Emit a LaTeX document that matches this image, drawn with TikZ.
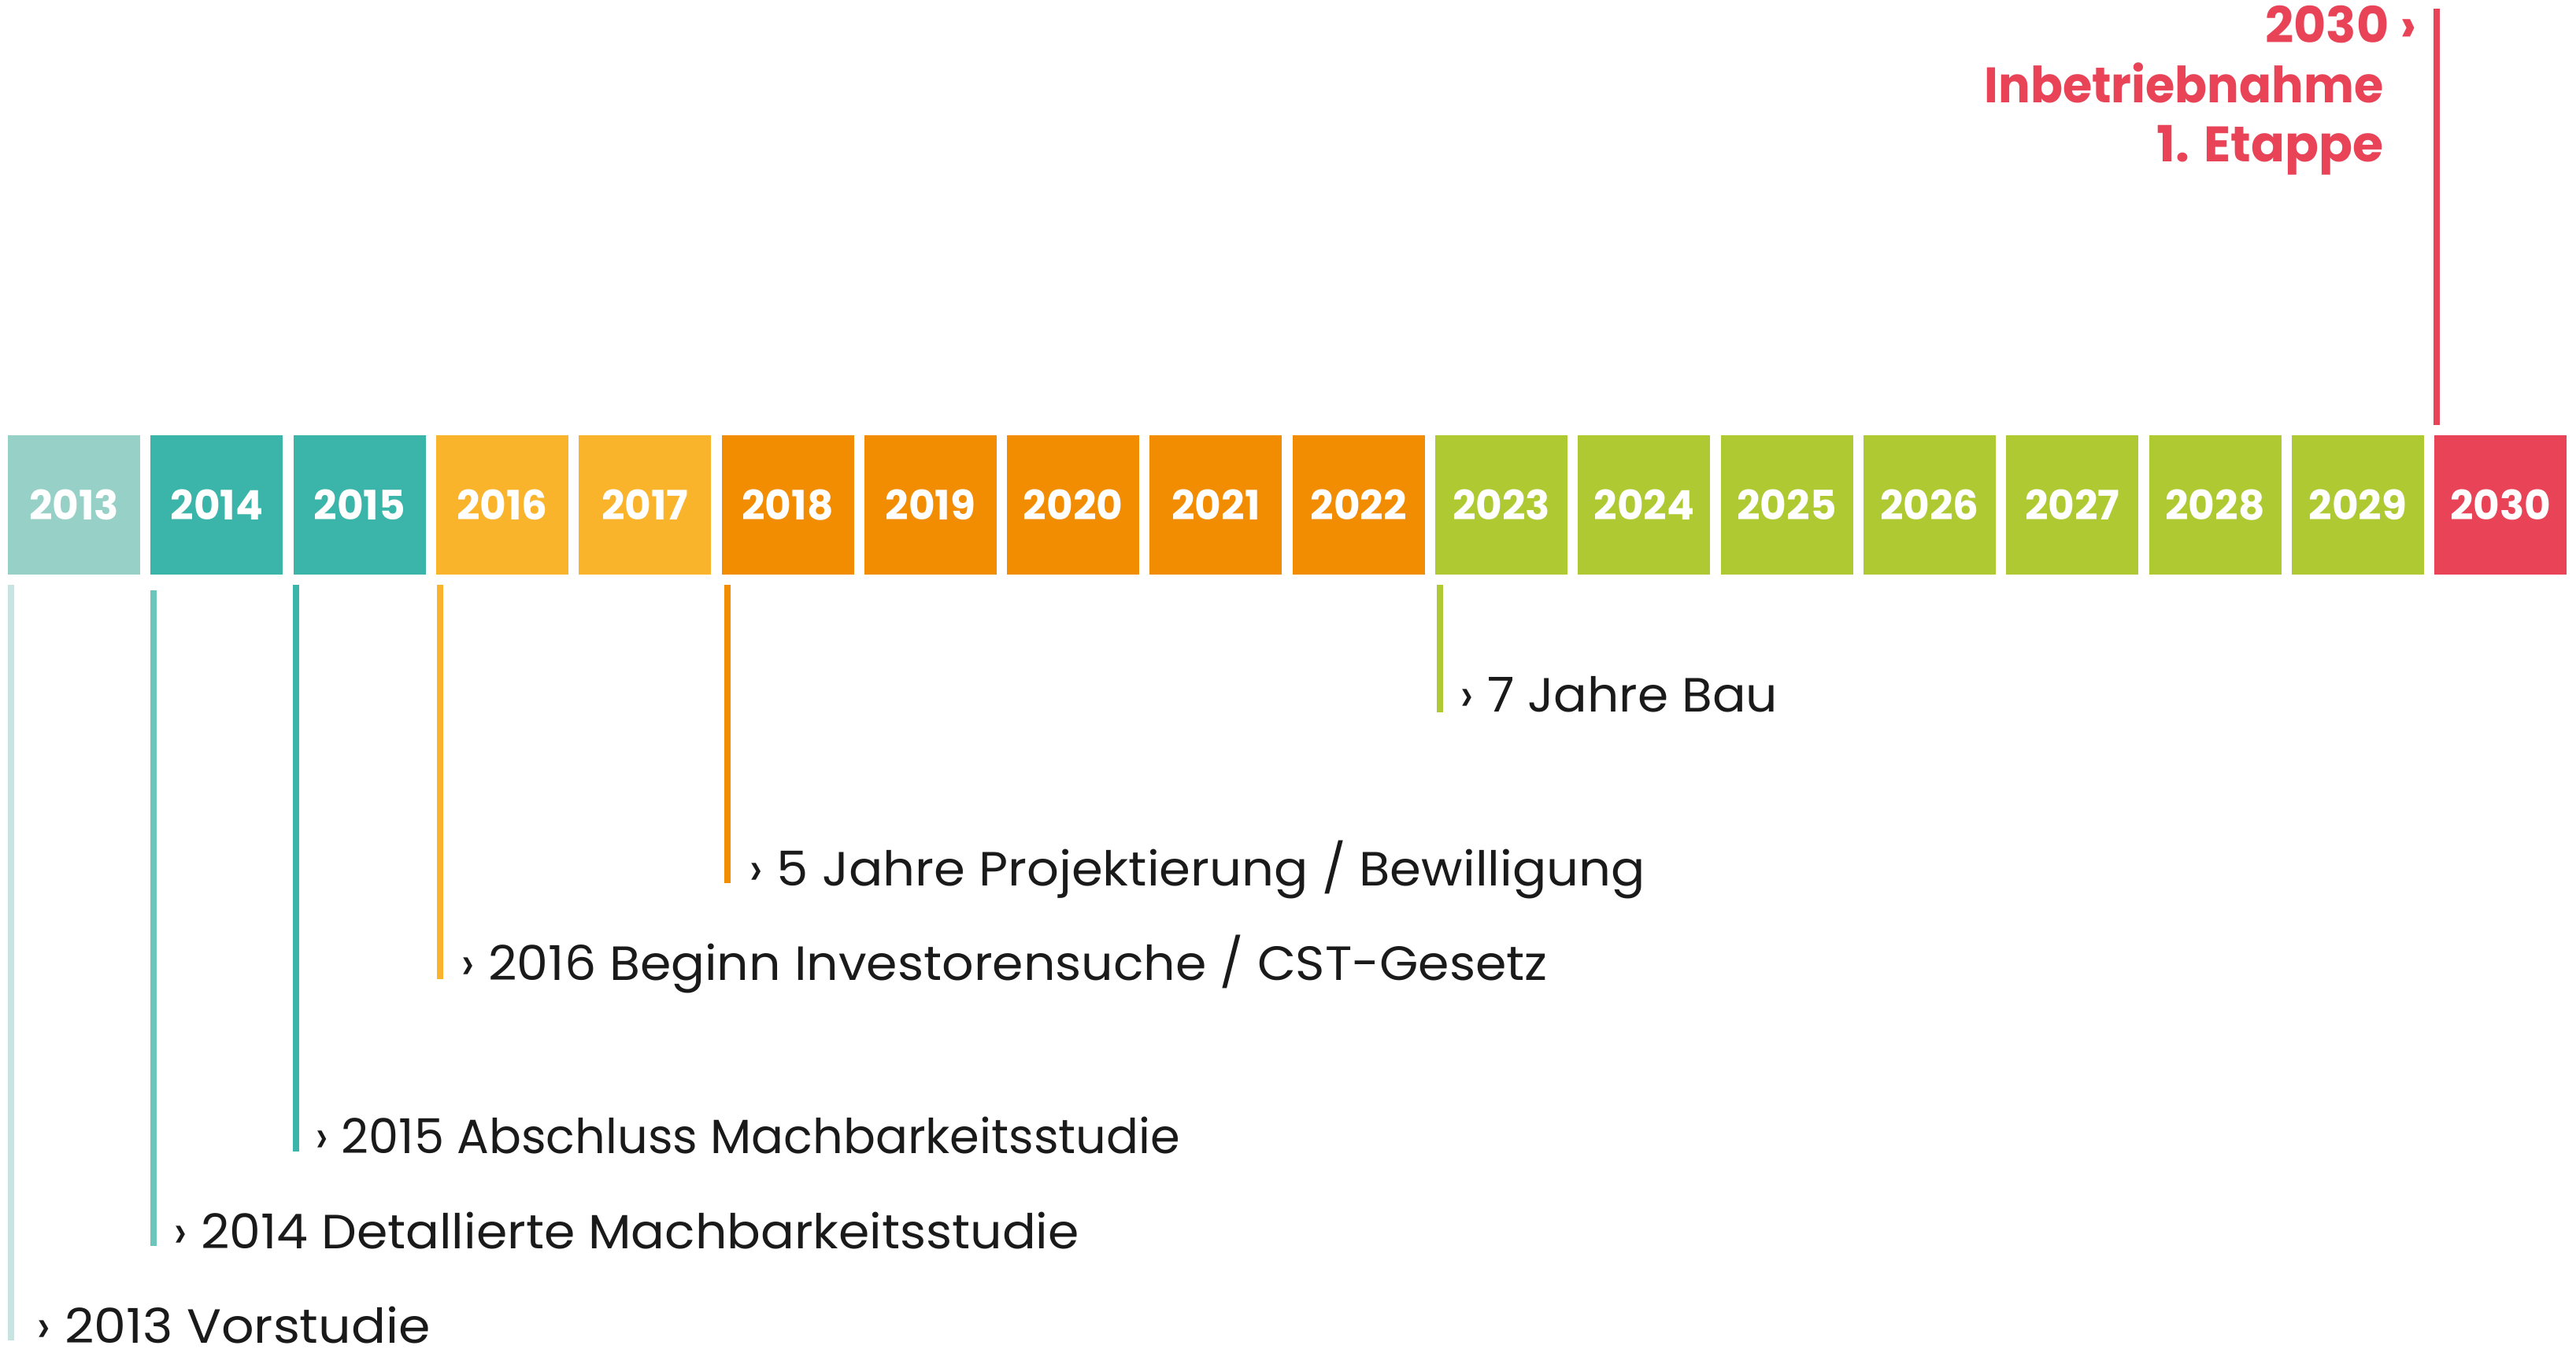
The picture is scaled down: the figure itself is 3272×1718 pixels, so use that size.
\documentclass[tikz,border=0pt]{standalone}
\usepackage{fontspec}
\setmainfont{Poppins}
\usetikzlibrary{calc}
\definecolor{cA}{HTML}{96D0C6}
\definecolor{cAl}{HTML}{C6E5E0}
\definecolor{cB}{HTML}{3BB5A9}
\definecolor{cBl}{HTML}{6CC5BA}
\definecolor{cC}{HTML}{F9B42B}
\definecolor{cD}{HTML}{F28C00}
\definecolor{cE}{HTML}{AFC932}
\definecolor{cF}{HTML}{E84357}
\definecolor{txt}{HTML}{1A1A1A}
% stretch a text horizontally to a target width (pt)
\newcommand\fitw[2]{\sbox0{#2}\pgfmathsetmacro\myscx{#1/\wd0}\scalebox{\myscx}[1]{\usebox0}}
\tikzset{
  yearbox/.style={minimum width=50.4pt, minimum height=53.1pt, inner sep=0pt, text=white,
    font=\bfseries\fontsize{15.5}{15.5}\selectfont},
  tick/.style={line width=2.4pt},
  evlabel/.style={anchor=base west, inner sep=0pt, text=txt, font=\fontsize{18.3}{18.3}\selectfont},
  headlabel/.style={anchor=base east, inner sep=0pt, text=cF, font=\bfseries\fontsize{19}{19}\selectfont}
}
\begin{document}
\begin{tikzpicture}[x=0.3pt,y=-0.3pt]
\useasboundingbox (0,0) rectangle (3272,1718);
% year boxes
\foreach \yr/\col [count=\i from 0] in {2013/cA,2014/cB,2015/cB,2016/cC,2017/cC,2018/cD,2019/cD,2020/cD,2021/cD,2022/cD,2023/cE,2024/cE,2025/cE,2026/cE,2027/cE,2028/cE,2029/cE,2030/cF}{
  \node[yearbox, fill=\col] (y\yr) at ({94+181.3*\i},641.5) {\yr};
}
% event labels
\node[evlabel] (l2013) at (46,1706) {\fitw{150}{› 2013 Vorstudie}};
\node[evlabel] (l2014) at (220,1586) {\fitw{345}{› 2014 Detallierte Machbarkeitsstudie}};
\node[evlabel] (l2015) at (400,1465) {\fitw{329.5}{› 2015 Abschluss Machbarkeitsstudie}};
\node[evlabel] (l2016) at (585,1245) {\fitw{414}{› 2016 Beginn Investorensuche / CST-Gesetz}};
\node[evlabel] (l2018) at (951,1125) {\fitw{341.5}{› 5 Jahre Projektierung / Bewilligung}};
\node[evlabel] (l2023) at (1854,904) {\fitw{121}{› 7 Jahre Bau}};
% tick lines
\coordinate (t2013) at (14,743);  \coordinate (b2013) at (14,1703);
\coordinate (t2014) at (195,750); \coordinate (b2014) at (195,1583);
\coordinate (t2015) at (376,743); \coordinate (b2015) at (376,1463);
\coordinate (t2016) at (559,743); \coordinate (b2016) at (559,1244);
\coordinate (t2018) at (924,743); \coordinate (b2018) at (924,1122);
\coordinate (t2023) at (1829,743); \coordinate (b2023) at (1829,905);
\draw[tick, cAl] (t2013) -- (b2013);
\draw[tick, cBl] (t2014) -- (b2014);
\draw[tick, cB] (t2015) -- (b2015);
\draw[tick, cC] (t2016) -- (b2016);
\draw[tick, cD] (t2018) -- (b2018);
\draw[tick, cE] (t2023) -- (b2023);
% 2030 milestone
\coordinate (t2030) at (3095,11);
\coordinate (b2030) at (3095,540);
\draw[tick, cF] (t2030) -- (b2030);
\node[headlabel] (h1) at (3070,54) {2030 ›};
\node[headlabel] (h2) at (3028,130) {\fitw{152}{Inbetriebnahme}};
\node[headlabel] (h3) at (3028,205) {1. Etappe};
\end{tikzpicture}
\end{document}
